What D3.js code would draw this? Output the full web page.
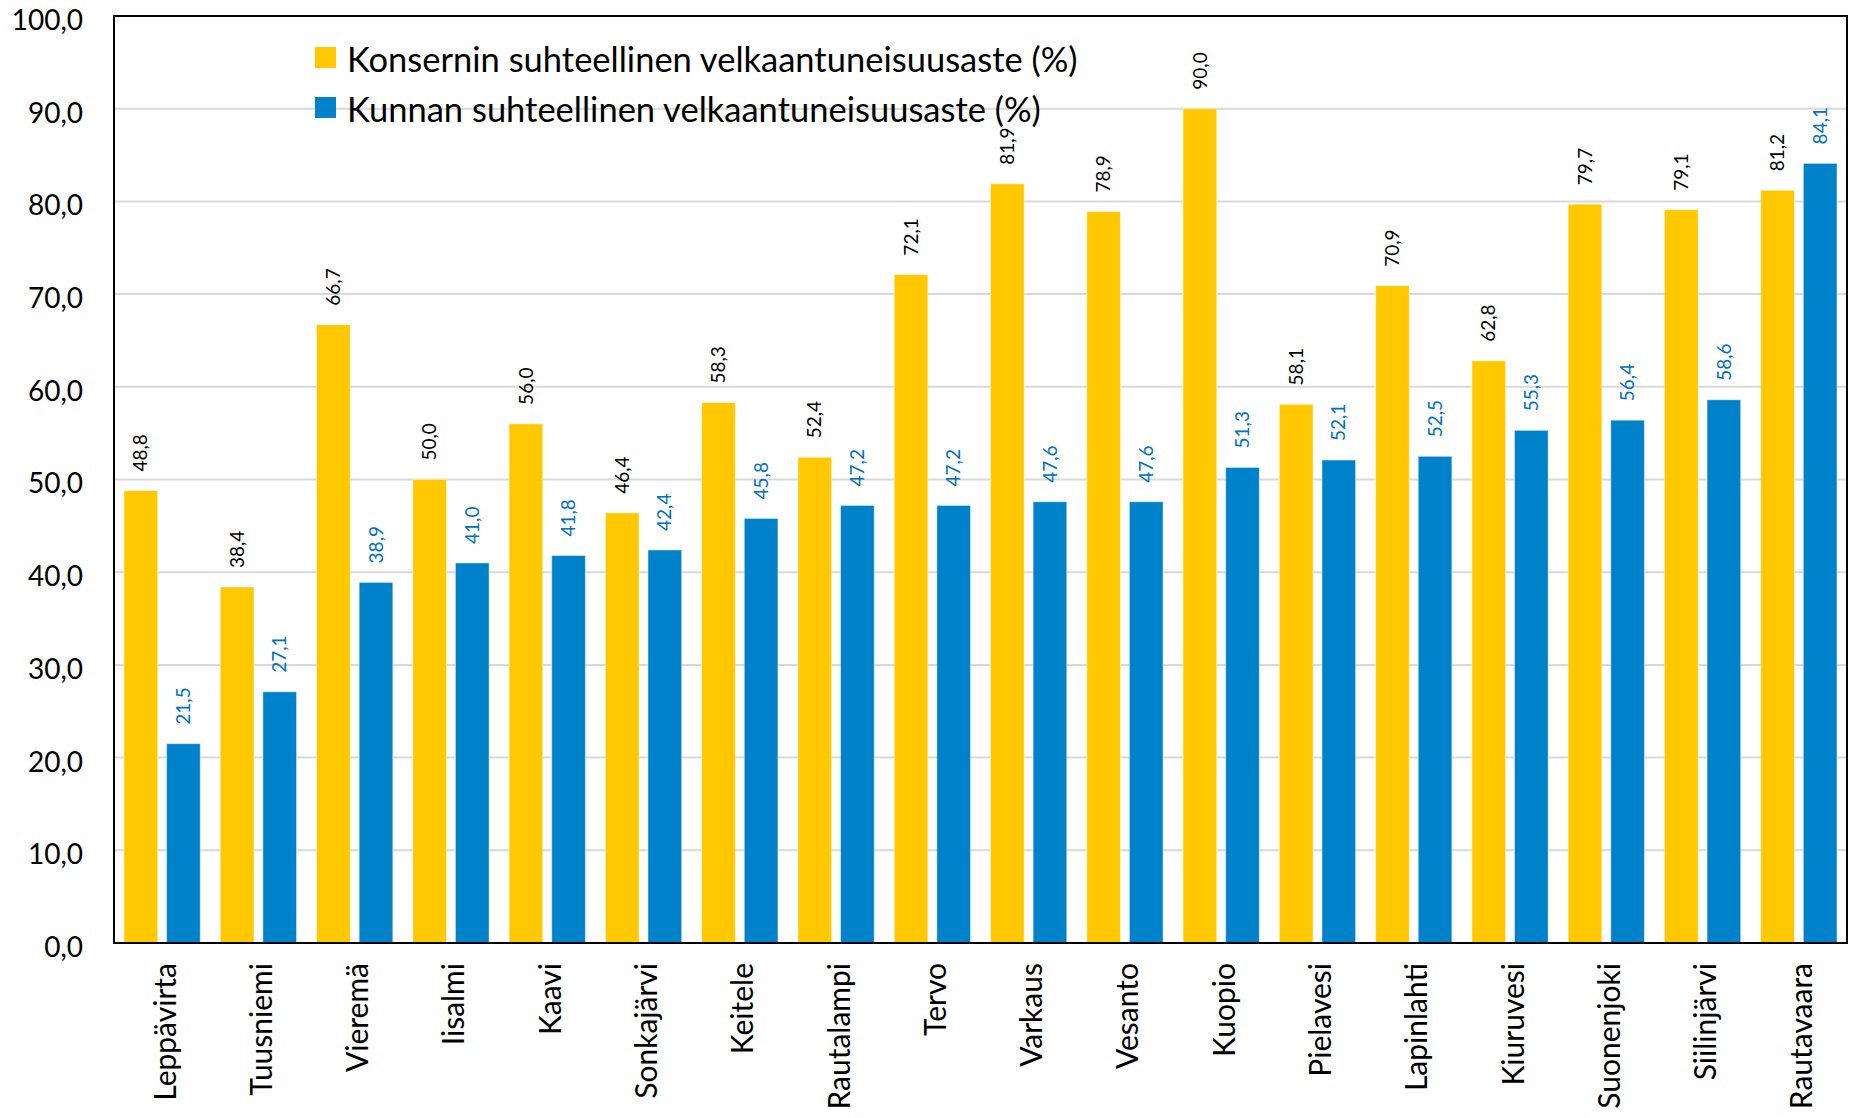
<!DOCTYPE html>
<html>
<head>
<meta charset="utf-8">
<script src="https://cdn.jsdelivr.net/npm/d3@7"></script>
<style>
  body { margin: 0; background: #fff; }
  text { font-family: Lato, "Open Sans", sans-serif; }
</style>
</head>
<body>
<div id="chartDiv"></div>
<script>
// data
var kunnat = ["Leppävirta", "Tuusniemi", "Vieremä", "Iisalmi", "Kaavi", "Sonkajärvi",
    "Keitele", "Rautalampi", "Tervo", "Varkaus", "Vesanto", "Kuopio", "Pielavesi",
    "Lapinlahti", "Kiuruvesi", "Suonenjoki", "Siilinjärvi", "Rautavaara"];
var konserni = [48.8, 38.4, 66.7, 50.0, 56.0, 46.4, 58.3, 52.4, 72.1, 81.9, 78.9, 90.0,
    58.1, 70.9, 62.8, 79.7, 79.1, 81.2];
var kunta = [21.5, 27.1, 38.9, 41.0, 41.8, 42.4, 45.8, 47.2, 47.2, 47.6, 47.6, 51.3,
    52.1, 52.5, 55.3, 56.4, 58.6, 84.1];
var sarjat = ["Konsernin suhteellinen velkaantuneisuusaste (%)",
    "Kunnan suhteellinen velkaantuneisuusaste (%)"];
var yTicks = [0, 10, 20, 30, 40, 50, 60, 70, 80, 90, 100];

var colors = ["#FFC800", "#0082CA"];
var labelColors = ["#000000", "#0070C0"];

// set the dimensions and margins of the graph
var margin = {top: 16, right: 4, bottom: 175, left: 114},
    fullW = 1851, fullH = 1118,
    width = fullW - margin.left - margin.right,
    height = fullH - margin.top - margin.bottom;

var svg = d3.select("#chartDiv")
    .append("svg")
        .attr("width", fullW)
        .attr("height", fullH)
    .append("g")
        .attr("transform", "translate(" + margin.left + "," + margin.top + ")");

var fmt = function(v) { return d3.format(".1f")(v).replace(".", ","); };

var x0 = d3.scaleBand().domain(kunnat).range([0, width]);
var bw = x0.bandwidth();
var x1 = d3.scaleBand().domain([0, 1]).range([bw * 0.104, bw * 0.896]).paddingInner(0.21);

var y = d3.scaleLinear().domain([0, 100]).range([height, 0]);

// gridlines
svg.append("g")
    .selectAll("line")
    .data(yTicks.slice(1, -1))
    .enter()
    .append("line")
    .attr("x1", 0).attr("x2", width)
    .attr("y1", function(d) { return y(d); })
    .attr("y2", function(d) { return y(d); })
    .attr("stroke", "#D9D9D9")
    .attr("stroke-width", 2);

// Y axis labels
var yAxis = svg.append("g")
    .call(d3.axisLeft(y).tickValues(yTicks).tickSize(0).tickPadding(31).tickFormat(fmt));
yAxis.select(".domain").remove();
yAxis.selectAll("text")
    .attr("dy", "0.48em")
    .style("font-family", "Lato, 'Open Sans', sans-serif")
    .style("font-size", "28px")
    .attr("fill", "#000");

// bars
var rows = kunnat.map(function(k, i) { return {k: k, v: [konserni[i], kunta[i]]}; });

var groups = svg.append("g")
    .selectAll("g")
    .data(rows)
    .enter()
    .append("g")
    .attr("transform", function(d) { return "translate(" + x0(d.k) + ",0)"; });

groups.selectAll("rect")
    .data(function(d) { return d.v.map(function(v, s) { return {s: s, v: v}; }); })
    .enter()
    .append("rect")
    .attr("x", function(d) { return x1(d.s); })
    .attr("width", x1.bandwidth())
    .attr("y", function(d) { return y(d.v); })
    .attr("height", function(d) { return height - y(d.v); })
    .attr("fill", function(d) { return colors[d.s]; })
    .attr("stroke", "#ffffff")
    .attr("stroke-opacity", 0.45)
    .attr("stroke-width", 1);

// value labels
groups.selectAll(".val")
    .data(function(d) { return d.v.map(function(v, s) { return {s: s, v: v}; }); })
    .enter()
    .append("text")
    .attr("class", "val")
    .attr("transform", function(d) {
        return "translate(" + (x1(d.s) + x1.bandwidth() / 2) + "," + (y(d.v) - 19) + ") rotate(-90)";
    })
    .attr("dy", "0.35em")
    .attr("text-anchor", "start")
    .style("font-size", "19px")
    .attr("fill", function(d) { return labelColors[d.s]; })
    .text(function(d) { return fmt(d.v); });

// X axis labels
var xAxis = svg.append("g")
    .attr("transform", "translate(0," + height + ")")
    .call(d3.axisBottom(x0).tickSize(0).tickPadding(0));
xAxis.select(".domain").remove();
xAxis.selectAll("text")
    .attr("transform", "translate(3,20) rotate(-90)")
    .attr("x", 0).attr("y", 0)
    .attr("dy", "0.35em")
    .attr("text-anchor", "end")
    .style("font-family", "Lato, 'Open Sans', sans-serif")
    .style("font-size", "30px")
    .attr("fill", "#000");

// frame
svg.append("rect")
    .attr("x", 0).attr("y", 0)
    .attr("width", width).attr("height", height)
    .attr("fill", "none")
    .attr("stroke", "#000")
    .attr("stroke-width", 2);

// legend
var legend = svg.append("g")
    .attr("transform", "translate(" + (315 - margin.left) + "," + (47 - margin.top) + ")");
var legendItems = legend.selectAll("g")
    .data(sarjat)
    .enter()
    .append("g")
    .attr("transform", function(d, i) { return "translate(0," + (i * 50) + ")"; });
legendItems.append("rect")
    .attr("width", 21).attr("height", 21)
    .attr("fill", function(d, i) { return colors[i]; });
legendItems.append("text")
    .attr("x", 32)
    .attr("y", 25)
    .style("font-size", "34.5px")
    .attr("fill", "#000")
    .text(function(d) { return d; });
</script>
</body>
</html>
